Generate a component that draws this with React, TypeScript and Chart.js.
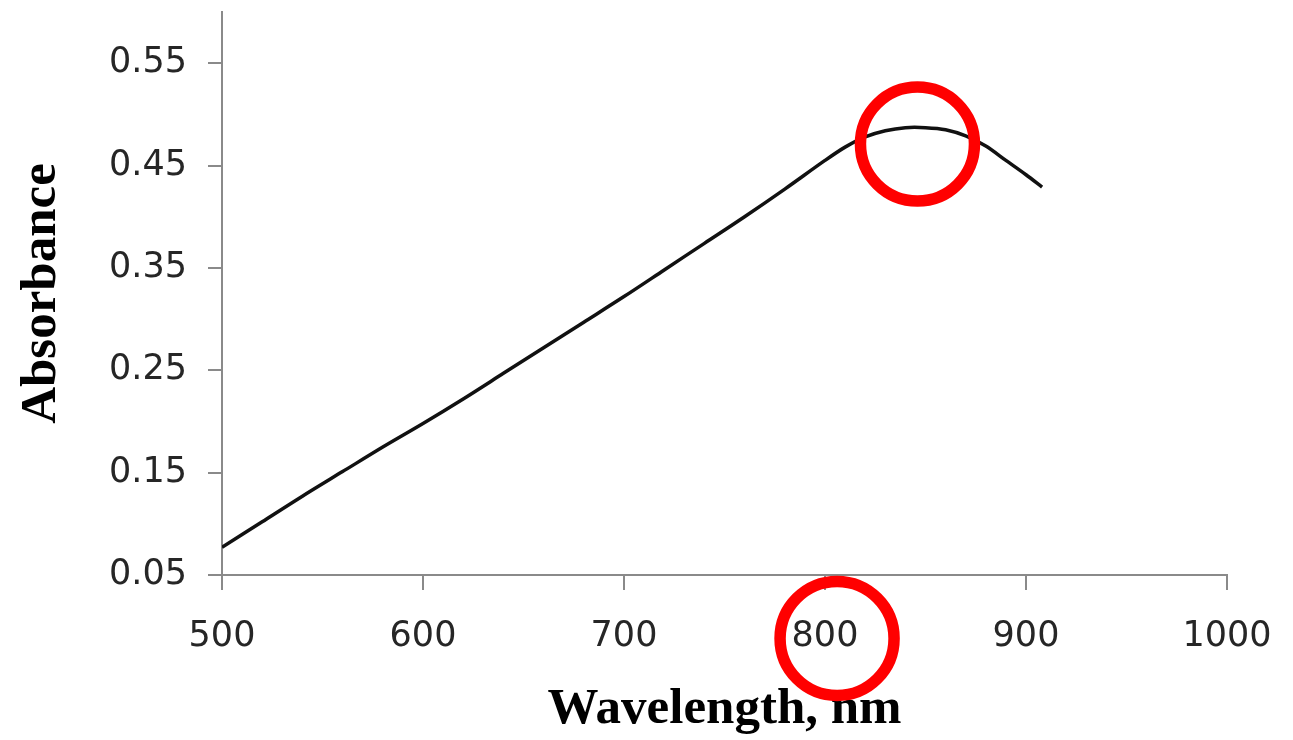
import React, { useEffect, useRef } from "react";
import { Chart, registerables } from "chart.js";

Chart.register(...registerables);

// Wavelength (nm)
const wavelengths: number[] = [
  500, 520, 540, 560, 580, 600, 620, 640, 660, 680, 700, 720, 740, 760, 780,
  800, 810, 820, 830, 840, 850, 860, 870, 880, 890, 900, 908,
];
// Absorbance
const absorbance: number[] = [
  0.077, 0.102, 0.127, 0.151, 0.175, 0.198, 0.222, 0.247, 0.272, 0.297, 0.322,
  0.348, 0.374, 0.4, 0.427, 0.455, 0.468, 0.478, 0.484, 0.487, 0.487, 0.485,
  0.479, 0.469, 0.455, 0.441, 0.429,
];
const yTickValues: number[] = [0.05, 0.15, 0.25, 0.35, 0.45, 0.55];
const yTickLabels: string[] = ["0.05", "0.15", "0.25", "0.35", "0.45", "0.55"];
const xTickValues: number[] = [500, 600, 700, 800, 900, 1000];

// Red highlight circles (centres in data units)
const circleX: number[] = [846, 806];
const circleY: number[] = [0.471, -0.012];

const circlePlugin = {
  id: "redCircles",
  afterDraw(chart: any) {
    const { ctx, scales } = chart;
    ctx.save();
    ctx.strokeStyle = "#ff0000";
    ctx.lineWidth = 11.5;
    for (let i = 0; i < circleX.length; i++) {
      const cx = scales.x.getPixelForValue(circleX[i]);
      const cy = scales.y.getPixelForValue(circleY[i]);
      ctx.beginPath();
      ctx.arc(cx, cy, 57, 0, Math.PI * 2);
      ctx.stroke();
    }
    ctx.restore();
  },
};

export default function App() {
  const ref = useRef<HTMLCanvasElement | null>(null);

  useEffect(() => {
    if (!ref.current) return;
    const axisColor = "#8a8a8a";
    const tickColor = "#262626";
    const chart = new Chart(ref.current, {
      type: "line",
      data: {
        datasets: [
          {
            data: wavelengths.map((w, i) => ({ x: w, y: absorbance[i] })),
            borderColor: "#111111",
            borderWidth: 3.5,
            pointRadius: 0,
            tension: 0.3,
            fill: false,
          },
        ],
      },
      options: {
        animation: false,
        responsive: false,
        layout: { padding: { left: 0, right: 66, top: 12, bottom: 0 } },
        plugins: { legend: { display: false }, tooltip: { enabled: false } },
        scales: {
          x: {
            type: "linear",
            min: 500,
            max: 1000,
            afterBuildTicks: (scale: any) => {
              scale.ticks = xTickValues.map((v) => ({ value: v }));
            },
            afterFit: (scale: any) => {
              scale.height = 165;
              scale.paddingLeft = 0;
              scale.paddingRight = 0;
            },
            border: { display: true, color: axisColor, width: 2 },
            grid: {
              drawOnChartArea: false,
              drawTicks: true,
              tickLength: 15,
              color: axisColor,
              lineWidth: 2,
            },
            ticks: {
              color: tickColor,
              padding: 26,
              maxRotation: 0,
              font: { family: "'DejaVu Sans'", size: 35 },
              callback: (v: any) => String(v),
            },
            title: {
              display: true,
              text: "Wavelength, nm",
              color: "#000000",
              font: { family: "'Liberation Serif'", size: 51, weight: "bold", lineHeight: 1.2 },
              padding: { top: 0, bottom: 0 },
            },
          },
          y: {
            type: "linear",
            min: 0.05,
            max: 0.6,
            afterBuildTicks: (scale: any) => {
              scale.ticks = yTickValues.map((v) => ({ value: v }));
            },
            afterFit: (scale: any) => {
              scale.width = 222;
              scale.paddingTop = 0;
              scale.paddingBottom = 0;
            },
            border: { display: true, color: axisColor, width: 2 },
            grid: {
              drawOnChartArea: false,
              drawTicks: true,
              tickLength: 14,
              color: axisColor,
              lineWidth: 2,
            },
            ticks: {
              color: tickColor,
              padding: 21,
              font: { family: "'DejaVu Sans'", size: 35 },
              callback: (v: any) => {
                const i = yTickValues.findIndex((t) => Math.abs(t - Number(v)) < 1e-9);
                return i >= 0 ? yTickLabels[i] : "";
              },
            },
            title: {
              display: true,
              text: "Absorbance",
              color: "#000000",
              font: { family: "'Liberation Serif'", size: 51, weight: "bold", lineHeight: 1.2 },
              padding: { top: 11, bottom: 0 },
            },
          },
        },
      },
      plugins: [circlePlugin],
    });
    return () => chart.destroy();
  }, []);

  return (
    <div style={{ position: "fixed", left: 0, top: 0, width: 1293, height: 740, background: "#ffffff" }}>
      <canvas ref={ref} width={1293} height={740} style={{ display: "block" }} />
    </div>
  );
}
